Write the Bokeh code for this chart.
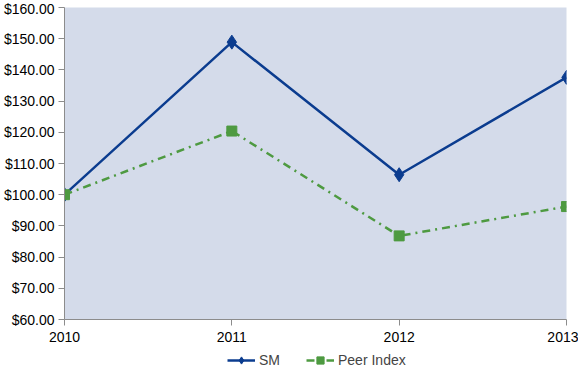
from bokeh.plotting import figure
from bokeh.layouts import column
from bokeh.models import NumeralTickFormatter, FixedTicker, Range1d, Legend, LegendItem
from bokeh.embed import file_html
from bokeh.resources import INLINE

years = [2010, 2011, 2012, 2013]
sm = [100.0, 148.9, 106.4, 137.6]
peer = [100.0, 120.4, 86.8, 96.2]
y_ticks = [60, 70, 80, 90, 100, 110, 120, 130, 140, 150, 160]
series_names = ["SM", "Peer Index"]

FONT = "Liberation Sans"
BLUE = "#0B3C8F"
GREEN = "#4E9A41"
DASH = "8 5 2 5"

p = figure(width=578, height=347, output_backend="svg", toolbar_location=None,
           x_range=Range1d(2010, 2013), y_range=Range1d(60, 160),
           min_border_left=60, min_border_right=12, min_border_top=7, min_border_bottom=28)
p.background_fill_color = "#D4DBEA"
p.border_fill_color = "white"
p.outline_line_color = None
p.xgrid.visible = False
p.ygrid.visible = False

for ax in (p.xaxis[0], p.yaxis[0]):
    ax.axis_line_color = "#8C8C8C"
    ax.major_tick_line_color = "#8C8C8C"
    ax.minor_tick_line_color = None
    ax.major_tick_out = 6
    ax.major_tick_in = 0
    ax.major_label_text_font = FONT
    ax.major_label_text_font_size = "14px"
    ax.major_label_text_color = "black"

p.xaxis.ticker = FixedTicker(ticks=years)
p.xaxis.major_label_standoff = 6
p.yaxis.ticker = FixedTicker(ticks=y_ticks)
p.yaxis.formatter = NumeralTickFormatter(format="$0.00")
p.yaxis.major_label_standoff = 4

p.line(years, sm, line_color=BLUE, line_width=2.5)
p.scatter(years, sm, marker="diamond", size=14, fill_color=BLUE, line_color=BLUE)
p.line(years, peer, line_color=GREEN, line_width=2.5, line_dash=DASH)
p.scatter(years, peer, marker="square", size=10, fill_color=GREEN, line_color=GREEN)

# legend strip below the chart (its renderers lie outside its ranges, only the legend shows)
lg = figure(width=578, height=22, output_backend="svg", toolbar_location=None,
            x_range=Range1d(0, 1), y_range=Range1d(0, 1),
            min_border_left=0, min_border_right=0, min_border_top=0, min_border_bottom=0)
lg.outline_line_color = None
lg.axis.visible = False
lg.grid.visible = False
r1 = lg.line(years, sm, line_color=BLUE, line_width=2.5)
s1 = lg.scatter(years, sm, marker="diamond", size=14, fill_color=BLUE, line_color=BLUE)
r2 = lg.line(years, peer, line_color=GREEN, line_width=2.5, line_dash=DASH)
s2 = lg.scatter(years, peer, marker="square", size=10, fill_color=GREEN, line_color=GREEN)
legend = Legend(items=[LegendItem(label=series_names[0], renderers=[r1, s1]),
                       LegendItem(label=series_names[1], renderers=[r2, s2])],
                orientation="horizontal", location=(163, 0),
                border_line_color=None, background_fill_alpha=0,
                label_text_font=FONT, label_text_font_size="14px",
                glyph_width=28, glyph_height=18, spacing=26, padding=2, margin=0,
                label_standoff=4)
lg.add_layout(legend)

layout = column(p, lg, spacing=0)
open("out.html", "w").write(file_html(layout, INLINE))
